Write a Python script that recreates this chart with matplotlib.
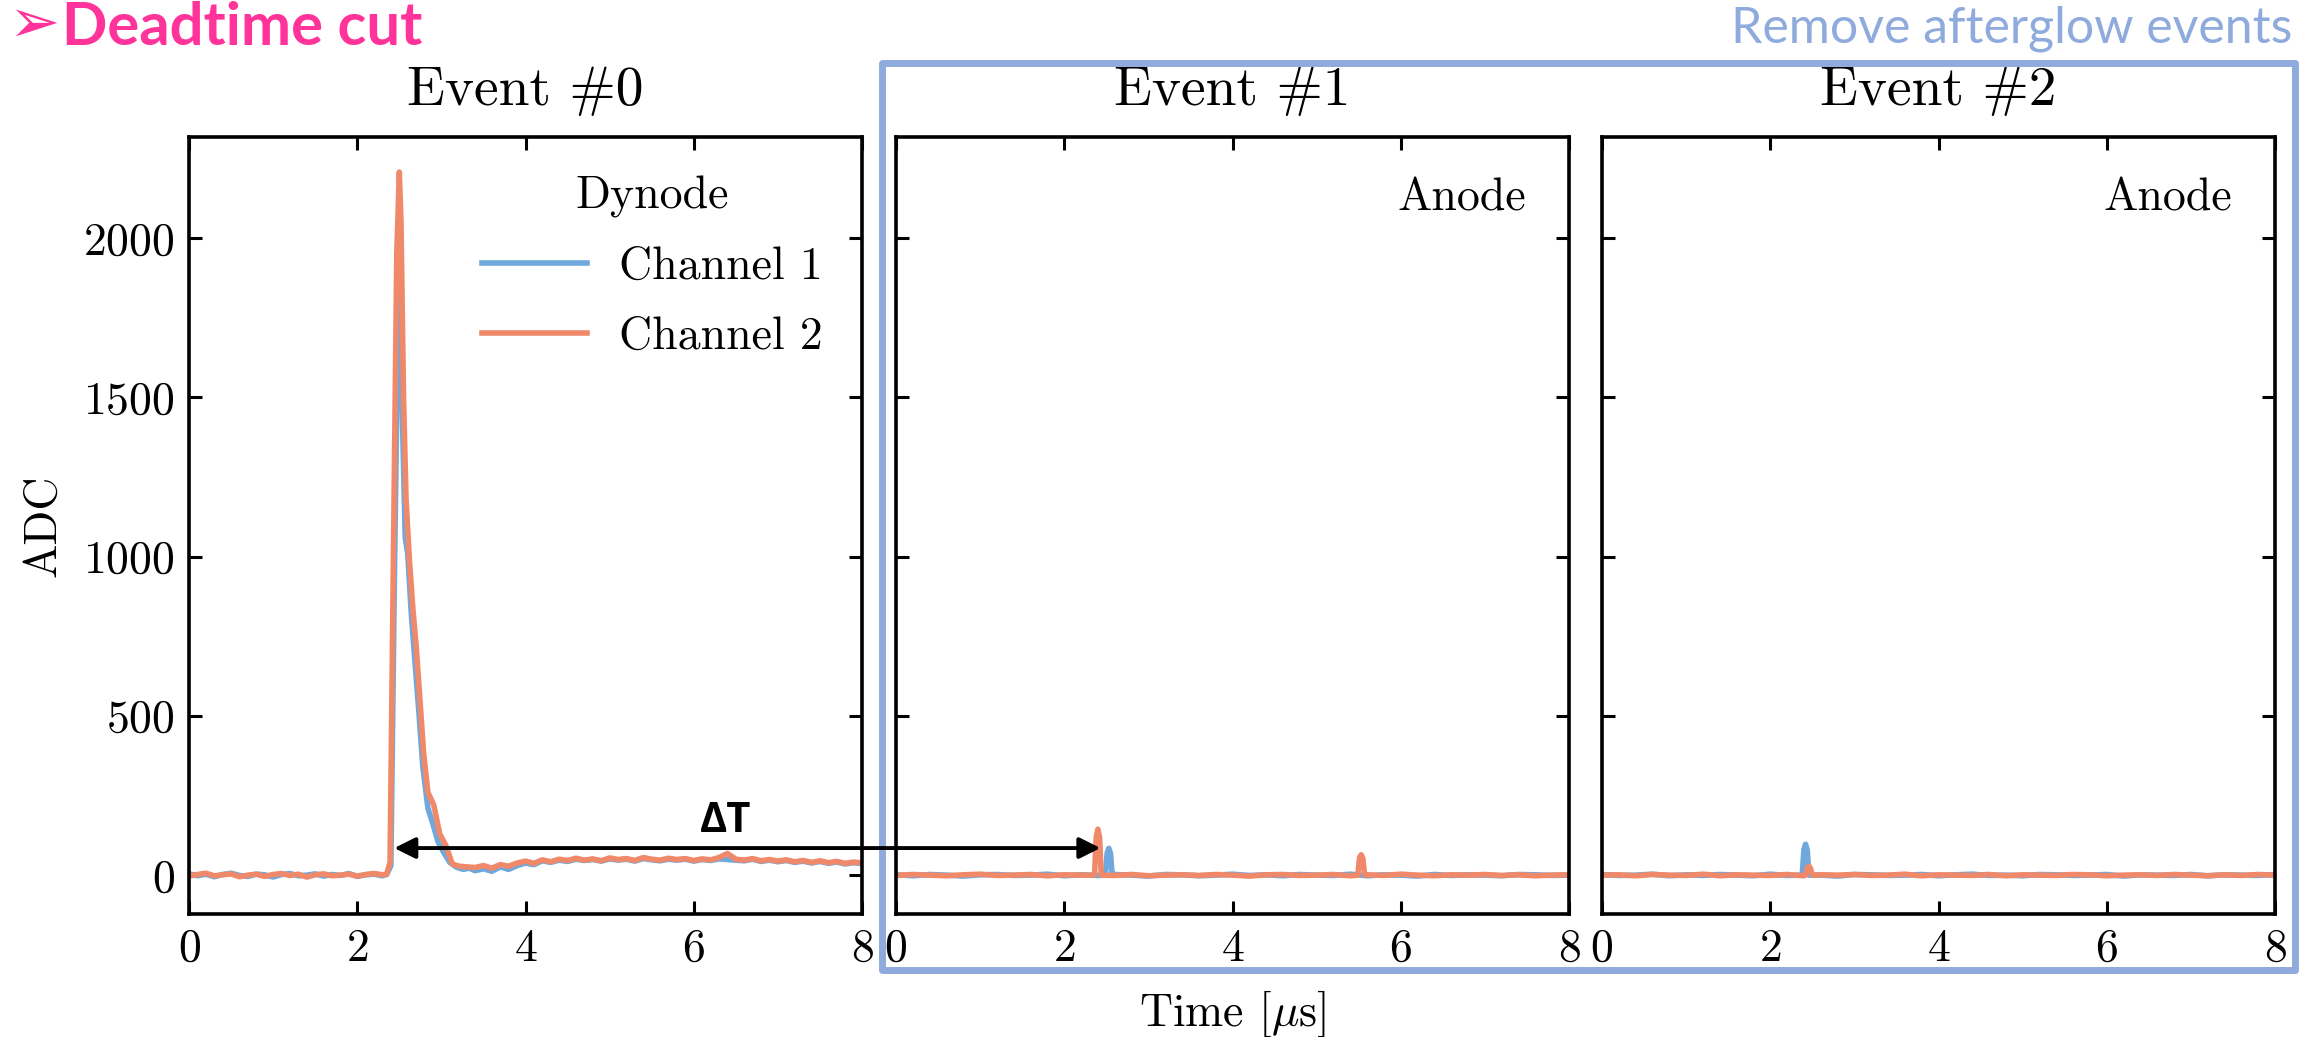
import numpy as np
import matplotlib
matplotlib.use("Agg")
import matplotlib.pyplot as plt
from matplotlib.patches import Rectangle, ConnectionPatch

plt.rcParams['font.family'] = 'serif'
plt.rcParams['font.serif'] = ['cmr10']
plt.rcParams['mathtext.fontset'] = 'cm'
plt.rcParams['axes.unicode_minus'] = False
plt.rcParams['axes.formatter.use_mathtext'] = True

BLUE = '#6fa8dc'
ORANGE = '#f0896a'
BOX = '#8faadc'
PINK = '#ff3399'

# --- Event #0 (dynode): baseline before/after the pulse, 0.1 us sampling
ev0_t_pre = np.round(np.arange(0.0, 2.35, 0.1), 2)
ev0_t_post = np.round(np.arange(3.4, 8.05, 0.1), 2)
ev0_ch1_pre = [4, -2, 3, -5, 2, 6, -1, -4, 3, 1, -6, 2, 5, -2, 0, 4, -3, 2, -1, 5, -4, 1, 3, -2]
ev0_ch2_pre = [-3, 2, 6, -2, 1, 4, -5, 0, 3, -4, 2, 5, -1, 3, -6, 1, 4, -2, 0, 3, -3, 2, 5, 1]
ev0_ch1_post = [14, 20, 12, 26, 18, 30, 38, 33, 45, 40, 47, 43, 50, 46, 49, 44, 51, 47, 50, 44,
                52, 48, 45, 50, 47, 50, 44, 49, 46, 51, 49, 47, 45, 50, 43, 47, 42, 46, 40, 44,
                38, 43, 37, 41, 35, 39, 36]
ev0_ch2_post = [24, 30, 22, 33, 28, 38, 44, 37, 48, 42, 50, 46, 53, 47, 51, 45, 54, 49, 52, 46,
                55, 50, 47, 53, 49, 52, 46, 51, 48, 55, 68, 50, 47, 52, 45, 49, 44, 48, 42, 46,
                40, 45, 39, 43, 37, 41, 38]
# pulse samples
ev0_ch1_pulse_t = [2.35, 2.40, 2.44, 2.48, 2.51, 2.54, 2.57, 2.60, 2.64, 2.68, 2.73, 2.78, 2.84,
                   2.90, 2.96, 3.03, 3.10, 3.18, 3.26, 3.33]
ev0_ch1_pulse = [2, 30, 900, 1650, 1875, 1400, 1060, 1010, 830, 690, 520, 340, 210, 160, 105,
                 70, 40, 25, 18, 22]
ev0_ch2_pulse_t = [2.35, 2.39, 2.43, 2.47, 2.50, 2.52, 2.55, 2.58, 2.62, 2.66, 2.70, 2.74, 2.79,
                   2.84, 2.91, 2.98, 3.05, 3.13, 3.21, 3.30]
ev0_ch2_pulse = [3, 40, 1000, 1950, 2207, 2050, 1500, 1180, 990, 840, 720, 570, 380, 260, 220,
                 130, 95, 35, 28, 26]

# --- Events #1 and #2 (anode): flat baselines, 0.2 us sampling, plus small spikes
t_base = np.round(np.arange(0.0, 8.05, 0.2), 2)
ev1_ch1_base = [1, -2, 2, 0, -3, 1, 2, -1, 0, 3, -2, 1, -1, 2, 0, -3, 2, 1, -2, 0, 3,
                -1, 1, -2, 2, 0, -1, 3, -2, 1, 0, -3, 2, -1, 1, 0, -2, 2, 1, -1, 0]
ev1_ch2_base = [-1, 2, 0, -2, 1, 3, -1, 0, 2, -2, 1, 0, 3, -1, 2, -2, 0, 1, -1, 2, 0,
                -3, 1, 2, -1, 0, 2, -2, 1, -1, 3, 0, -2, 1, 0, 2, -1, 1, -2, 0, 1]
ev2_ch1_base = [2, -1, 0, 3, -2, 1, -1, 2, 0, -2, 3, -1, 1, 0, -3, 2, 1, -1, 0, 2, -2,
                1, 3, -1, 0, -2, 2, 1, -1, 0, 2, -3, 1, 0, -1, 2, -2, 1, 0, -1, 2]
ev2_ch2_base = [0, 1, -2, 2, 0, -1, 3, -2, 1, 0, -1, 2, -2, 1, 0, 2, -1, 0, 3, -2, 1,
                0, -1, 2, -2, 1, 0, -1, 2, 1, -2, 0, 1, -1, 2, 0, -2, 1, -1, 2, 0]

ev1_ch1_spikes = [([2.49, 2.51, 2.53, 2.55, 2.57], [0, 70, 84, 68, 0])]
ev1_ch2_spikes = [([2.36, 2.38, 2.40, 2.42, 2.44], [0, 120, 144, 118, 0]),
                  ([5.49, 5.51, 5.53, 5.55, 5.57], [0, 55, 64, 52, 0])]
ev2_ch1_spikes = [([2.38, 2.40, 2.42, 2.44, 2.46], [0, 80, 97, 78, 0])]
ev2_ch2_spikes = [([2.42, 2.44, 2.46, 2.48, 2.50], [0, 22, 28, 20, 0])]


def build(tb, vb, spikes):
    # baseline samples inside a spike window are replaced by the spike samples
    tb = np.asarray(tb, float)
    vb = np.asarray(vb, float)
    keep = np.ones(len(tb), bool)
    for ts, vs in spikes:
        keep &= ~((tb >= ts[0]) & (tb <= ts[-1]))
    t = np.concatenate([tb[keep]] + [np.asarray(ts, float) for ts, _ in spikes])
    v = np.concatenate([vb[keep]] + [np.asarray(vs, float) for _, vs in spikes])
    order = np.argsort(t)
    return t[order], v[order]


ev0_t_base = np.concatenate([ev0_t_pre, ev0_t_post])
traces = [
    (build(ev0_t_base, ev0_ch1_pre + ev0_ch1_post, [(ev0_ch1_pulse_t, ev0_ch1_pulse)]),
     build(ev0_t_base, ev0_ch2_pre + ev0_ch2_post, [(ev0_ch2_pulse_t, ev0_ch2_pulse)])),
    (build(t_base, ev1_ch1_base, ev1_ch1_spikes), build(t_base, ev1_ch2_base, ev1_ch2_spikes)),
    (build(t_base, ev2_ch1_base, ev2_ch1_spikes), build(t_base, ev2_ch2_base, ev2_ch2_spikes)),
]
titles = ['Event #0', 'Event #1', 'Event #2']

fig = plt.figure(figsize=(23.23, 10.37), dpi=100)
W, H = 2323, 1037
lefts = [189, 896, 1602]
axes = []
for i, lx in enumerate(lefts):
    ax = fig.add_axes([lx / W, 1 - 914 / H, 673 / W, 777 / H],
                      sharey=axes[0] if axes else None)
    (t1, v1), (t2, v2) = traces[i]
    ax.plot(t1, v1, color=BLUE, lw=4, label='Channel 1')
    ax.plot(t2, v2, color=ORANGE, lw=4, label='Channel 2')
    ax.set_xlim(0, 8)
    ax.set_xticks([0, 2, 4, 6, 8])
    ax.set_title(titles[i], fontsize=40, pad=23)
    ax.tick_params(direction='in', top=True, right=True, length=9.5, width=2.2,
                   labelsize=33, pad=10)
    for s in ax.spines.values():
        s.set_linewidth(2.6)
    if i > 0:
        ax.tick_params(labelleft=False)
        ax.text(0.936, 0.92, 'Anode', transform=ax.transAxes, ha='right', va='center',
                fontsize=33)
    axes.append(ax)

axes[0].set_yticks([0, 500, 1000, 1500, 2000])
axes[0].set_ylim(-122, 2317)
axes[0].set_ylabel('ADC', fontsize=33, labelpad=14)
axes[1].set_xlabel(r'Time [$\mu$s]', fontsize=33, labelpad=14)
axes[0].legend(title='Dynode', loc='upper right', frameon=False, fontsize=33,
               title_fontsize=33, handlelength=2.3, handletextpad=0.7, labelspacing=0.62,
               borderaxespad=0.45)

# afterglow box around events #1 and #2
box = Rectangle((882 / W, 1 - 970 / H), (2295 - 882) / W, (970 - 63) / H,
                transform=fig.transFigure, fill=False, edgecolor=BOX, lw=5,
                joinstyle='round', zorder=5)
fig.add_artist(box)
fig.text(2292 / W, 1 - 43 / H, 'Remove afterglow events', ha='right', va='baseline',
         color=BOX, fontsize=36, family=['Lato', 'DejaVu Sans'])

# deadtime arrow between the two pulses
arrow = ConnectionPatch(xyA=(2.44, 85), coordsA=axes[0].transData,
                        xyB=(2.43, 85), coordsB=axes[1].transData,
                        arrowstyle='<|-|>', mutation_scale=32, lw=2.8, color='black',
                        zorder=10)
fig.add_artist(arrow)
fig.text(726 / W, 1 - 822 / H, 'ΔT', ha='center', va='center', fontsize=30,
         fontweight='bold', family=['Open Sans', 'DejaVu Sans'])

fig.text(34 / W, 1 - 25 / H, '➢', ha='center', va='center', color=PINK, fontsize=44,
         family=['DejaVu Sans'])
fig.text(62 / W, 1 - 45 / H, 'Deadtime cut', ha='left', va='baseline', color=PINK,
         fontsize=43, fontweight='bold', family=['Lato', 'DejaVu Sans'])

fig.savefig('out.png', dpi=100)
